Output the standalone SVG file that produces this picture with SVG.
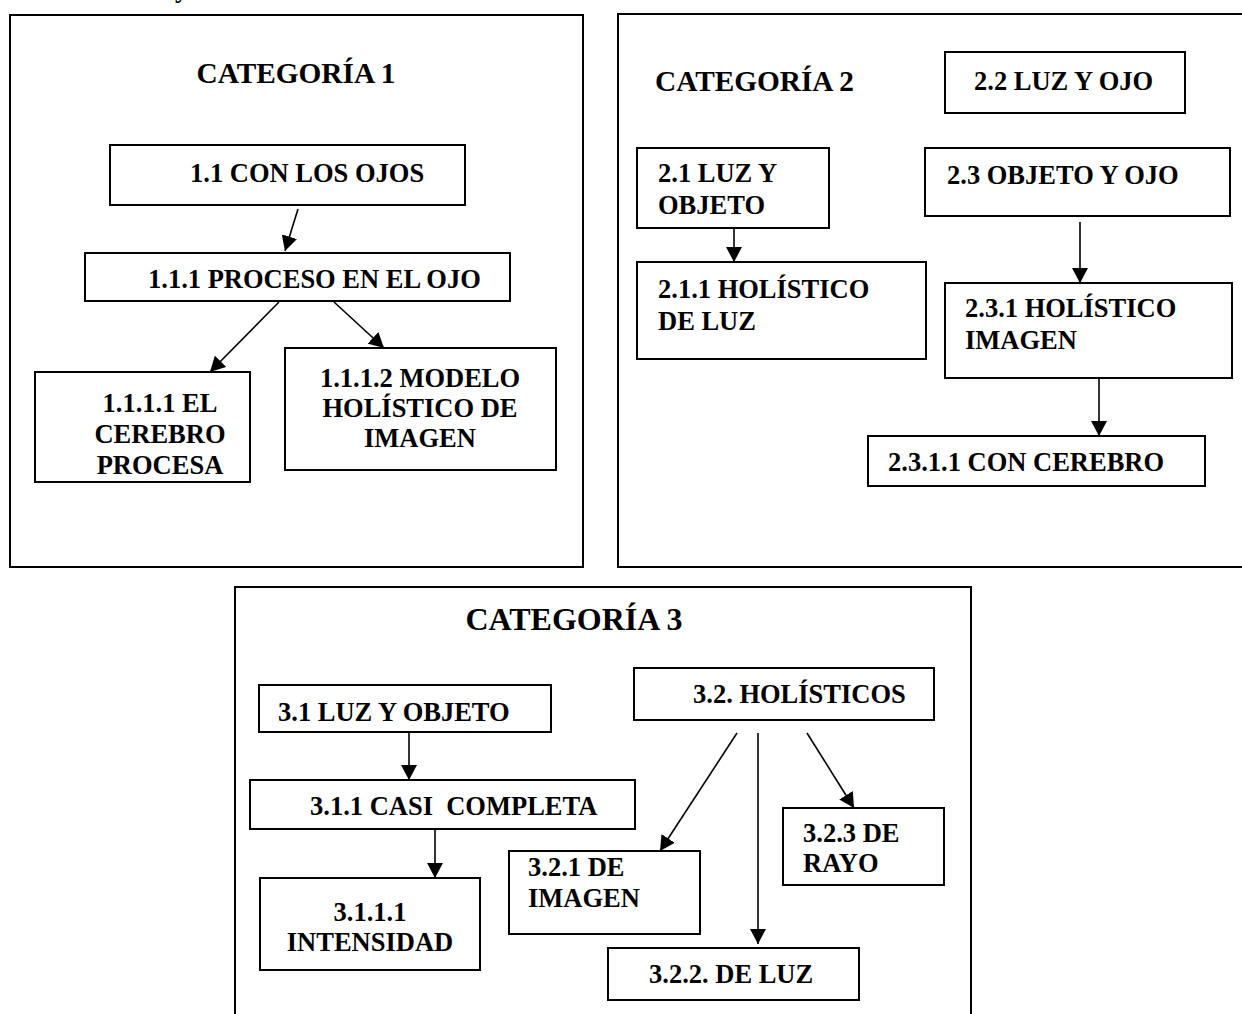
<svg xmlns="http://www.w3.org/2000/svg" width="1242" height="1014" viewBox="0 0 1242 1014">
<defs>
<style>
.frame{fill:#fff;stroke:#000;stroke-width:2}
.box{fill:#fff;stroke:#000;stroke-width:2}
.t{font-family:"Liberation Serif","Times New Roman",serif;font-weight:bold;font-size:26.5px;fill:#000}
.title{font-family:"Liberation Serif","Times New Roman",serif;font-weight:bold;font-size:29.3px;fill:#000}
.title3{font-family:"Liberation Serif","Times New Roman",serif;font-weight:bold;font-size:32px;fill:#000}
.c{text-anchor:middle}
.conn{stroke:#000;stroke-width:1.6;fill:none;marker-end:url(#ah)}
</style>
<marker id="ah" markerUnits="userSpaceOnUse" markerWidth="16" markerHeight="16" refX="15" refY="8" orient="auto">
<path d="M0,0 L15,8 L0,16 Z" fill="#000"/>
</marker>
</defs>
<rect width="1242" height="1014" fill="#fff"/>
<text class="t" x="175" y="-3">y</text>

<g id="cat1">
<rect class="frame" x="10" y="15" width="573" height="552"/>
<text class="title c" x="296" y="83">CATEGORÍA 1</text>
</g>
<g id="cat2">
<path class="frame" d="M1250,14 L618,14 L618,567 L1250,567" />
<text class="title" x="655" y="91">CATEGORÍA 2</text>
</g>
<g id="cat3">
<path class="frame" d="M235,1020 L235,587 L971,587 L971,1020" />
<text class="title3 c" x="574" y="630">CATEGORÍA 3</text>
</g>

<g id="n1_1"><rect class="box" x="110" y="145" width="355" height="60"/><text class="t" x="190" y="182">1.1 CON LOS OJOS</text></g>
<g id="n1_1_1"><rect class="box" x="85" y="253" width="425" height="48"/><text class="t" x="148" y="288">1.1.1 PROCESO EN EL OJO</text></g>
<g id="n1_1_1_1"><rect class="box" x="35" y="372" width="215" height="110"/>
<text class="t c" x="160"><tspan x="160" y="412">1.1.1.1  EL</tspan><tspan x="160" y="443">CEREBRO</tspan><tspan x="160" y="474">PROCESA</tspan></text></g>
<g id="n1_1_1_2"><rect class="box" x="285" y="348" width="271" height="122"/>
<text class="t c" x="420"><tspan x="420" y="387">1.1.1.2  MODELO</tspan><tspan x="420" y="417">HOLÍSTICO DE</tspan><tspan x="420" y="447">IMAGEN</tspan></text></g>

<g id="n2_2"><rect class="box" x="945" y="52" width="240" height="61"/><text class="t" x="974" y="90">2.2 LUZ Y OJO</text></g>
<g id="n2_1"><rect class="box" x="637" y="148" width="192" height="80"/>
<text class="t"><tspan x="658" y="182">2.1 LUZ Y</tspan><tspan x="658" y="214">OBJETO</tspan></text></g>
<g id="n2_3"><rect class="box" x="925" y="148" width="305" height="68"/><text class="t" x="947" y="184">2.3 OBJETO Y OJO</text></g>
<g id="n2_1_1"><rect class="box" x="637" y="262" width="289" height="97"/>
<text class="t"><tspan x="658" y="298">2.1.1 HOLÍSTICO</tspan><tspan x="658" y="330">DE LUZ</tspan></text></g>
<g id="n2_3_1"><rect class="box" x="945" y="283" width="287" height="95"/>
<text class="t"><tspan x="965" y="317">2.3.1 HOLÍSTICO</tspan><tspan x="965" y="349">IMAGEN</tspan></text></g>
<g id="n2_3_1_1"><rect class="box" x="868" y="436" width="337" height="50"/><text class="t" x="888" y="471">2.3.1.1 CON CEREBRO</text></g>

<g id="n3_1"><rect class="box" x="259" y="685" width="292" height="47"/><text class="t" x="278" y="721">3.1 LUZ Y OBJETO</text></g>
<g id="n3_2"><rect class="box" x="634" y="668" width="300" height="52"/><text class="t" x="693" y="703">3.2. HOLÍSTICOS</text></g>
<g id="n3_1_1"><rect class="box" x="250" y="780" width="385" height="49"/><text class="t" x="310" y="815" xml:space="preserve">3.1.1 CASI  COMPLETA</text></g>
<g id="n3_1_1_1"><rect class="box" x="260" y="878" width="220" height="92"/>
<text class="t c"><tspan x="370" y="921">3.1.1.1</tspan><tspan x="370" y="951">INTENSIDAD</tspan></text></g>
<g id="n3_2_1"><rect class="box" x="509" y="851" width="191" height="83"/>
<text class="t"><tspan x="528" y="876">3.2.1 DE</tspan><tspan x="528" y="907">IMAGEN</tspan></text></g>
<g id="n3_2_3"><rect class="box" x="783" y="808" width="161" height="77"/>
<text class="t"><tspan x="803" y="842">3.2.3 DE</tspan><tspan x="803" y="872">RAYO</tspan></text></g>
<g id="n3_2_2"><rect class="box" x="608" y="948" width="251" height="52"/><text class="t" x="649" y="983">3.2.2. DE LUZ</text></g>

<g id="connectors">
<line class="conn" x1="298" y1="209" x2="285" y2="251"/>
<line class="conn" x1="279" y1="302" x2="210" y2="372"/>
<line class="conn" x1="334" y1="302" x2="384" y2="348"/>
<line class="conn" x1="734" y1="228" x2="734" y2="262"/>
<line class="conn" x1="1080" y1="222" x2="1080" y2="283"/>
<line class="conn" x1="1099" y1="378" x2="1099" y2="436"/>
<line class="conn" x1="409" y1="733" x2="409" y2="780"/>
<line class="conn" x1="435" y1="830" x2="435" y2="878"/>
<line class="conn" x1="737" y1="733" x2="660" y2="851"/>
<line class="conn" x1="758" y1="733" x2="758" y2="944"/>
<line class="conn" x1="807" y1="733" x2="854" y2="808"/>
</g>
</svg>
